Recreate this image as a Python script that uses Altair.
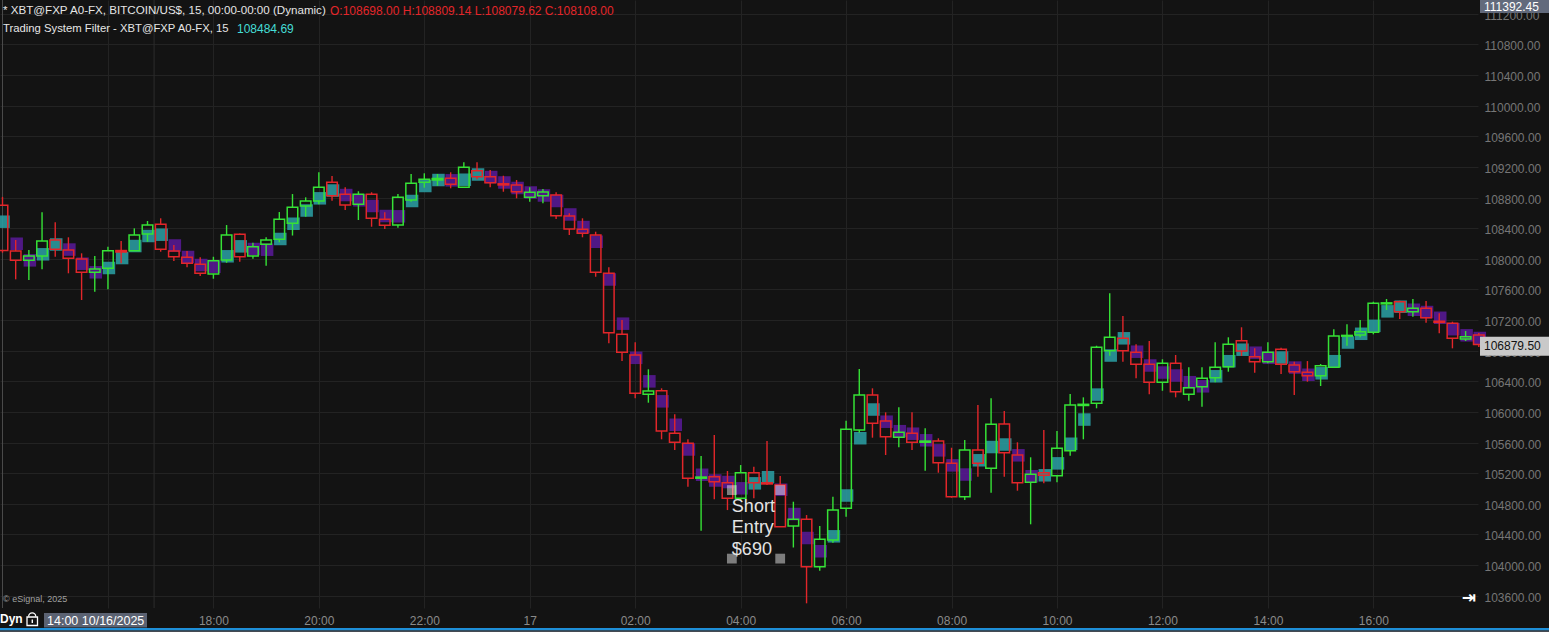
import altair as alt
import numpy as np
import pandas as pd

# XBT@FXP A0-FX, 15-minute bars from 14:00 10/16/2025
START = "2025-10-16 14:00:00"

opens = [
    108698, 108102, 107980, 108037, 108246, 108115, 107997, 107824, 107876, 108108,
    108106, 108324, 108451, 108102, 108020, 107928, 107802, 107984, 108320, 108037,
    108189, 108255, 108464, 108690, 108755, 108999, 108842, 108712, 108842, 108516,
    108441, 108768, 108999, 109029, 109051, 108934, 109151, 109072, 108980, 108964,
    108803, 108824, 108833, 108559, 108385, 108311, 107811, 107014, 106744, 106230,
    106277, 105721, 105591, 105135, 105155, 105076, 104872, 105207, 105075, 105046,
    104510, 104598, 103979, 104328, 104742, 105764, 106221, 105882, 105669, 105721,
    105605, 105621, 105329, 104893, 105503, 105264, 105843, 105438, 105081, 105207,
    105167, 105494, 106085, 106113, 106800, 106962, 106779, 106622, 106387, 106635,
    106230, 106330, 106447, 106591, 106931, 106722, 106656, 106818, 106613, 106518,
    106473, 106583, 106990, 107005, 107040, 107412, 107440, 107309, 107354, 107185,
    107158, 106953, 107005,
]
highs = [
    108809.14, 108246, 108115, 108607, 108477, 108281, 108072, 108037, 108158, 108232,
    108398, 108494, 108529, 108180, 108102, 108020, 108027, 108441, 108330, 108210,
    108281, 108611, 108846, 108803, 109130, 109081, 108934, 108882, 108869, 108607,
    108846, 109108, 109117, 109108, 109130, 109260, 109260, 109160, 109085, 109029,
    108934, 108912, 108869, 108594, 108529, 108354, 107889, 107201, 106910, 106557,
    106309, 105969, 105643, 105425, 105699, 105229, 105307, 105285, 105621, 105163,
    104828, 104654, 104510, 104893, 105886, 106561, 106309, 105995, 106061, 105995,
    105786, 105656, 105533, 105634, 106091, 106178, 106012, 105604, 105408, 105764,
    105751, 106234, 106191, 106865, 107550, 107253, 106883, 106927, 106688, 106744,
    106583, 106583, 106910, 106975, 107106, 106831, 106910, 106839, 106656, 106665,
    106626, 107079, 107145, 107201, 107440, 107475, 107453, 107475, 107449, 107288,
    107179, 107057, 107031,
]
lows = [
    108079.62, 107732, 107723, 107863, 108027, 107811, 107462, 107570, 107602, 107941,
    108106, 108223, 108093, 107971, 107889, 107775, 107740, 107949, 107962, 108001,
    107910, 108216, 108304, 108550, 108712, 108759, 108637, 108507, 108419, 108389,
    108406, 108746, 108929, 108955, 108921, 108934, 109038, 108934, 108876, 108790,
    108746, 108725, 108520, 108311, 108281, 107766, 106897, 106665, 106178, 106121,
    105643, 105503, 105024, 104449, 104859, 104719, 104850, 104872, 105046, 104501,
    104230, 103501, 103927, 104292, 104632, 105729, 105664, 105438, 105538, 105503,
    105233, 105207, 104880, 104850, 105155, 104945, 105155, 104972, 104533, 105068,
    105081, 105429, 105643, 106048, 106735, 106656, 106439, 106230, 106277, 106191,
    106147, 106069, 106387, 106526, 106731, 106513, 106635, 106496, 106221, 106395,
    106339, 106583, 106865, 106975, 107014, 107331, 107214, 107244, 107166, 107027,
    106831, 106927, 106848,
]
closes = [
    108108, 107980, 108037, 108232, 108124, 108007, 107824, 107867, 108106, 108089,
    108311, 108441, 108124, 108027, 107941, 107811, 107975, 108311, 108027, 108158,
    108246, 108516, 108673, 108755, 108934, 108824, 108703, 108842, 108529, 108438,
    108803, 108986, 109038, 109049, 108973, 109195, 109072, 108994, 108965, 108876,
    108869, 108873, 108563, 108389, 108333, 107824, 107035, 106779, 106244, 106274,
    105751, 105604, 105133, 105150, 105089, 104872, 105207, 105076, 105060, 104501,
    104598, 103979, 104337, 104719, 105773, 106221, 105852, 105677, 105734, 105604,
    105620, 105337, 104893, 105503, 105329, 105839, 105468, 105076, 105186, 105173,
    105525, 106091, 106100, 106844, 106975, 106800, 106622, 106387, 106635, 106264,
    106317, 106439, 106583, 106883, 106796, 106656, 106779, 106622, 106526, 106473,
    106604, 106992, 107000, 107048, 107419, 107425, 107309, 107354, 107231, 107170,
    106962, 106983, 106879.50,
]
# Trading System Filter values, one per bar
trend_filter = [
    108484.69, 108197, 107980, 108059, 108187, 108121, 107936, 107824, 107880, 108010,
    108167, 108298, 108315, 108174, 108024, 107919, 107897, 108033, 108163, 108128,
    108119, 108259, 108458, 108631, 108790, 108892, 108833, 108764, 108690, 108559,
    108555, 108755, 108951, 109029, 109025, 109033, 109101, 109068, 108997, 108925,
    108866, 108827, 108755, 108579, 108415, 108223, 107730, 107153, 106707, 106400,
    106139, 105833, 105510, 105180, 105105, 105085, 105003, 105068, 105148, 104985,
    104667, 104354, 104181, 104376, 104909, 105657, 106032, 105873, 105749, 105716,
    105630, 105499, 105303, 105183, 105369, 105542, 105575, 105434, 105161, 105173,
    105329, 105585, 105901, 106227, 106737, 106962, 106787, 106607, 106515, 106476,
    106389, 106335, 106466, 106663, 106813, 106774, 106707, 106711, 106580, 106486,
    106505, 106663, 106907, 107021, 107125, 107314, 107375, 107335, 107305, 107230,
    107081, 107001, 106966,
]

price_ticks = list(range(103600, 111201, 400))
scale_top_label = "111392.45"
note_text = "Short\nEntry\n$690"
note_time = "2025-10-17 03:50:00"
note_price = 104700
handle_times = ["2025-10-17 03:50:00", "2025-10-17 04:45:00"]
handle_prices = [104980, 104085]

# colours and fonts
BG = "#131313"
GRID = "#232323"
UP = "#36e236"
DOWN = "#e2262a"
RISE = "#2a9a9e"
FALL = "#561a92"
FONT = "Liberation Sans"

W, H = 1478, 608
MIN = 60_000


def to_ms(ts):
    return int(pd.Timestamp(ts).value // 1_000_000)


t_start = to_ms(START)
times = pd.date_range(START, periods=len(opens), freq="15min")
t_ms = times.asi8 // 1_000_000

bars = pd.DataFrame({"t": t_ms, "o": opens, "h": highs, "l": lows, "c": closes, "f": trend_filter})
bars["top"] = bars[["o", "c"]].max(axis=1)
bars["bot"] = bars[["o", "c"]].min(axis=1)
bars["t0"] = bars["t"] - 6 * MIN
bars["t1"] = bars["t"] + 6 * MIN
bars["candle_col"] = np.where(bars["c"] > bars["o"], UP, DOWN)
rising = np.r_[True, np.diff(bars["f"].to_numpy()) > 0]
bars["filter_col"] = np.where(rising, RISE, FALL)

x_scale = alt.Scale(domain=[t_start - 171_000, t_start + 100_746_000], nice=False, zero=False)
y_scale = alt.Scale(domain=[103440, 111380], nice=False, zero=False)

clock_ticks = [t_start + k * 120 * MIN for k in range(1, 14)]
clock_expr = (
    "datum.value < " + str(t_start + 3 * 60 * MIN) + " ? '' : "
    "(utcFormat(datum.value, '%H:%M') == '00:00' ? '17' : utcFormat(datum.value, '%H:%M'))"
)

x_axis = alt.Axis(
    values=clock_ticks, labelExpr=clock_expr, grid=True, gridColor=GRID, gridWidth=1,
    domain=False, ticks=False, labelColor="#8a8a8a", labelFont=FONT, labelFontSize=12,
    labelPadding=7, title=None, labelFlush=False, labelOverlap=False,
)
y_axis = alt.Axis(
    orient="right", values=price_ticks, labelExpr="format(datum.value, '.2f')",
    grid=True, gridColor=GRID, gridWidth=1, domain=False, ticks=False,
    labelColor="#767676", labelFont=FONT, labelFontSize=12, labelPadding=6,
    title=None, labelFlush=False, labelOverlap=False, labelOffset=1.5,
)


def X(field):
    return alt.X(field, type="quantitative", scale=x_scale, axis=x_axis)


def Y(field):
    return alt.Y(field, type="quantitative", scale=y_scale, axis=y_axis)


base = alt.Chart(bars)

# cursor line and session break line
marker_lines = alt.Chart(pd.DataFrame({
    "t": [t_start, t_start + int(172.5 * MIN)],
    "col": ["#4a4a4a", "#2c2c2c"],
})).mark_rule(strokeWidth=1).encode(x=X("t"), color=alt.Color("col:N", scale=None))

squares = base.mark_square(size=156, opacity=0.9, strokeWidth=0, xOffset=1).encode(
    x=X("t"), y=Y("f"), color=alt.Color("filter_col:N", scale=None)
)
wick_hi = base.mark_rule(strokeWidth=1.4).encode(
    x=X("t"), y=Y("h"), y2="top", color=alt.Color("candle_col:N", scale=None)
)
wick_lo = base.mark_rule(strokeWidth=1.4).encode(
    x=X("t"), y=Y("bot"), y2="l", color=alt.Color("candle_col:N", scale=None)
)
bodies = base.mark_rect(filled=False, strokeWidth=1.5).encode(
    x=X("t0"), x2="t1", y=Y("top"), y2="bot", color=alt.Color("candle_col:N", scale=None)
)

# text object with its selection handles
handles = pd.DataFrame(
    [(to_ms(t), p) for t in handle_times for p in handle_prices], columns=["t", "p"]
)
note_handles = alt.Chart(handles).mark_square(
    size=96, color="#ffffff", opacity=0.45, strokeWidth=0
).encode(x=X("t"), y=Y("p"))
note = alt.Chart(pd.DataFrame({"t": [to_ms(note_time)], "p": [note_price], "s": [note_text]})).mark_text(
    align="left", baseline="alphabetic", lineBreak="\n", lineHeight=21.7,
    fontSize=18, font=FONT, color="#e4e4e4",
).encode(x=X("t"), y=Y("p"), text="s:N")

# last price marker on the price scale
last = pd.DataFrame({"p": [closes[-1]]})
last["lbl"] = last["p"].map(lambda v: f"{v:.2f}")
last["p_hi"] = last["p"] + 104
last["p_lo"] = last["p"] - 144
last_box = alt.Chart(last).mark_rect(color="#c9c9c9").encode(
    x=alt.value(1480), x2=alt.value(1549), y=Y("p_hi"), y2="p_lo"
)
last_text = alt.Chart(last).mark_text(
    align="left", baseline="middle", font=FONT, fontSize=12, color="#111111", dy=1.5
).encode(x=alt.value(1484), y=Y("p"), text="lbl:N")

one = pd.DataFrame({"k": [0]})


def box(x, x2, y, y2, color):
    return alt.Chart(one).mark_rect(color=color).encode(
        x=alt.value(x), x2=alt.value(x2), y=alt.value(y), y2=alt.value(y2)
    )


def label(s, x, y, color, size=11, weight="normal", font=FONT, align="left"):
    return alt.Chart(pd.DataFrame({"s": [s]})).mark_text(
        align=align, baseline="middle", font=font, fontSize=size, fontWeight=weight, color=color
    ).encode(x=alt.value(x), y=alt.value(y), text="s:N")


ohlc = f"O:{opens[0]:.2f} H:{highs[0]:.2f} L:{lows[0]:.2f} C:{closes[0]:.2f}"
header = [
    label("* XBT@FXP A0-FX, BITCOIN/US$, 15, 00:00-00:00 (Dynamic)", 3, 11, "#e6e6e6", size=11.6),
    label(ohlc, 330, 11, "#e3262a", size=12),
    label("Trading System Filter - XBT@FXP A0-FX, 15", 3, 29, "#e6e6e6", size=11.3),
    label(f"{trend_filter[0]:.2f}", 237, 29, "#45ddd5", size=12),
]

top_box = box(1480, 1549, 0, 13, "#626a7c")
top_text = label(scale_top_label, 1484, 6.5, "#ffffff", size=12)

footer = [
    label("© eSignal, 2025", 3, 599, "#a0a0a0", size=9),
    label("⇥", 1469, 598, "#ffffff", size=17, weight="bold", font="DejaVu Sans", align="center"),
    box(0, 1549, 628, 630.5, "#1e8fd8"),
    box(0, 1549, 630.5, 632, "#454a52"),
    label("Dyn", 0, 618.5, "#ffffff", size=12, weight="bold"),
    alt.Chart(one).mark_rect(filled=False, color="#ffffff", strokeWidth=1.3).encode(
        x=alt.value(27), x2=alt.value(37.5), y=alt.value(617), y2=alt.value(625.5)
    ),
    alt.Chart(one).mark_arc(radius=4.2, radius2=2.9, theta=4.712, theta2=7.854, color="#ffffff").encode(
        x=alt.value(32.2), y=alt.value(616.5)
    ),
    alt.Chart(one).mark_rect(color="#ffffff").encode(
        x=alt.value(31.6), x2=alt.value(33), y=alt.value(619.5), y2=alt.value(623)
    ),
    box(44, 147, 613, 627.5, "#5b6272"),
    label("14:00 10/16/2025", 47, 620.5, "#ffffff", size=12.5),
]

chart = alt.layer(
    marker_lines, squares, wick_hi, wick_lo, bodies, note_handles, note,
    *header, last_box, last_text, top_box, top_text, *footer,
).properties(
    width=W, height=H, background=BG,
    padding={"left": 0, "top": 0, "right": 71, "bottom": 24},
    autosize=alt.AutoSizeParams(type="none"),
).configure_view(stroke=None, fill=BG)

chart.save("out.html", embed_options={"renderer": "svg", "actions": False})
